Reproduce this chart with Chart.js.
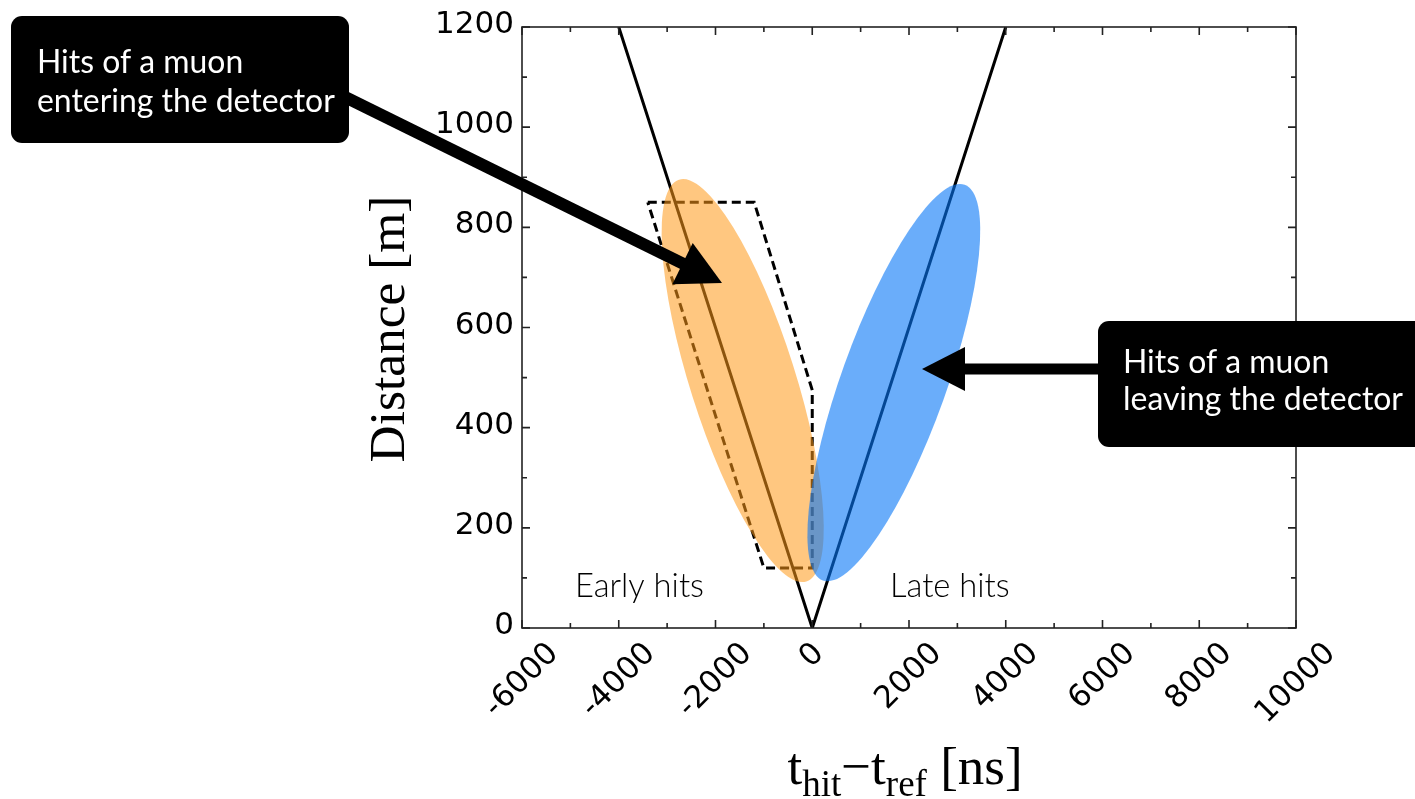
<!DOCTYPE html>
<html>
<head>
<meta charset="utf-8">
<script src="https://cdn.jsdelivr.net/npm/chart.js@4.4.1/dist/chart.umd.min.js"></script>
<style>
  html, body { margin: 0; padding: 0; background: #fff; }
  canvas { display: block; }
</style>
</head>
<body>
<canvas id="chart" width="1415" height="799"></canvas>
<script>
// tick values
const xTicks = [-6000, -4000, -2000, 0, 2000, 4000, 6000, 8000, 10000];
const yTicks = [0, 200, 400, 600, 800, 1000, 1200];

// light cone (time, distance)
const coneT = [-4000, 0, 4000];
const coneD = [1200, 0, 1200];

// dashed selection window
const windowT = [-3400, -1200, 0, 0, -1000, -3400];
const windowD = [850, 850, 475, 120, 120, 850];

// hit clouds: centre and upper tip of the long axis
const earlyCenter = [-1438, 494];
const earlyTip = [-2754, 895];
const lateCenter = [1686, 490];
const lateTip = [3151, 885];

const toPoints = (ts, ds) => ts.map((t, i) => ({ x: t, y: ds[i] }));

// font size that makes text fill a given width
function fitFont(ctx, text, width, family, weight) {
    ctx.font = weight + ' 40px ' + family;
    return 40 * width / ctx.measureText(text).width;
}

/* ellipses drawn over the lines */
const hitClouds = {
    id: 'hitClouds',
    afterDatasetsDraw(chart) {
        const { ctx, scales: { x, y } } = chart;
        const clouds = [
            { c: earlyCenter, tip: earlyTip, color: 'rgba(255,153,24,0.55)' },
            { c: lateCenter, tip: lateTip, color: 'rgba(7,118,247,0.6)' }
        ];
        clouds.forEach(cl => {
            const cx = x.getPixelForValue(cl.c[0]), cy = y.getPixelForValue(cl.c[1]);
            const tx = x.getPixelForValue(cl.tip[0]), ty = y.getPixelForValue(cl.tip[1]);
            const a = Math.hypot(tx - cx, ty - cy);
            ctx.save();
            ctx.fillStyle = cl.color;
            ctx.beginPath();
            ctx.ellipse(cx, cy, a, a * 0.25, Math.atan2(ty - cy, tx - cx), 0, Math.PI * 2);
            ctx.fill();
            ctx.restore();
        });
    }
};

/* box, inward ticks, tick labels, axis titles */
const frame = {
    id: 'frame',
    afterDraw(chart) {
        const { ctx, chartArea: a, scales: { x, y } } = chart;
        ctx.save();
        ctx.strokeStyle = '#222';
        ctx.lineWidth = 1.6;
        ctx.strokeRect(a.left, a.top, a.right - a.left, a.bottom - a.top);

        ctx.beginPath();
        xTicks.forEach((v, i) => {
            const px = x.getPixelForValue(v);
            ctx.moveTo(px, a.bottom); ctx.lineTo(px, a.bottom - 8);
            ctx.moveTo(px, a.top); ctx.lineTo(px, a.top + 8);
            if (i < xTicks.length - 1) {
                const mx = x.getPixelForValue((v + xTicks[i + 1]) / 2);
                ctx.moveTo(mx, a.bottom); ctx.lineTo(mx, a.bottom - 5);
                ctx.moveTo(mx, a.top); ctx.lineTo(mx, a.top + 5);
            }
        });
        yTicks.forEach((v, i) => {
            const py = y.getPixelForValue(v);
            ctx.moveTo(a.left, py); ctx.lineTo(a.left + 8, py);
            ctx.moveTo(a.right, py); ctx.lineTo(a.right - 8, py);
            if (i < yTicks.length - 1) {
                const my = y.getPixelForValue((v + yTicks[i + 1]) / 2);
                ctx.moveTo(a.left, my); ctx.lineTo(a.left + 5, my);
                ctx.moveTo(a.right, my); ctx.lineTo(a.right - 5, my);
            }
        });
        ctx.stroke();

        ctx.fillStyle = '#000';
        ctx.font = '31px "DejaVu Sans"';
        ctx.textAlign = 'right';
        ctx.textBaseline = 'middle';
        yTicks.forEach(v => ctx.fillText(String(v), a.left - 8, y.getPixelForValue(v) - 2));

        ctx.textAlign = 'center';
        xTicks.forEach(v => {
            const s = String(v);
            const w = ctx.measureText(s).width;
            const cx = x.getPixelForValue(v);
            const cy = a.bottom + 13 + (w + 22) / (2 * Math.SQRT2);
            ctx.save();
            ctx.translate(cx, cy);
            ctx.rotate(-Math.PI / 4);
            ctx.fillText(s, 0, 0);
            ctx.restore();
        });

        // y title
        ctx.textBaseline = 'alphabetic';
        const yt = 'Distance [m]';
        const ys = fitFont(ctx, yt, 267, '"Liberation Serif"', 'normal');
        ctx.font = ys + 'px "Liberation Serif"';
        ctx.save();
        ctx.translate(404, 329);
        ctx.rotate(-Math.PI / 2);
        ctx.fillText(yt, 0, 0);
        ctx.restore();

        // x title with subscripts
        const parts = [
            { s: 't', sub: false }, { s: 'hit', sub: true }, { s: '\u2212', sub: false },
            { s: 't', sub: false }, { s: 'ref', sub: true }, { s: ' [ns]', sub: false }
        ];
        const fontFor = p => (p.sub ? '37px' : '53px') + ' "Liberation Serif"';
        let total = 0;
        parts.forEach(p => { ctx.font = fontFor(p); p.w = ctx.measureText(p.s).width; total += p.w; });
        let px = 905 - total / 2;
        ctx.textAlign = 'left';
        parts.forEach(p => {
            ctx.font = fontFor(p);
            ctx.fillText(p.s, px, p.sub ? 796 : 784);
            px += p.w;
        });
        ctx.restore();
    }
};

function roundBox(ctx, x0, y0, w, h, r) {
    ctx.beginPath();
    ctx.roundRect(x0, y0, w, h, r);
    ctx.fill();
}

function arrow(ctx, x0, y0, x1, y1, width, headLen, headHalf) {
    const ang = Math.atan2(y1 - y0, x1 - x0);
    const bx = x1 - headLen * Math.cos(ang), by = y1 - headLen * Math.sin(ang);
    ctx.lineWidth = width;
    ctx.beginPath(); ctx.moveTo(x0, y0); ctx.lineTo(bx + Math.cos(ang), by + Math.sin(ang)); ctx.stroke();
    ctx.beginPath();
    ctx.moveTo(x1, y1);
    ctx.lineTo(bx + headHalf * Math.sin(ang), by - headHalf * Math.cos(ang));
    ctx.lineTo(bx - headHalf * Math.sin(ang), by + headHalf * Math.cos(ang));
    ctx.closePath();
    ctx.fill();
}

/* callouts + region labels */
const callouts = {
    id: 'callouts',
    afterDraw(chart) {
        const { ctx, scales: { x, y } } = chart;
        ctx.save();
        ctx.fillStyle = '#000';
        ctx.strokeStyle = '#000';

        // region labels
        const ls = fitFont(ctx, 'Early hits', 129, 'Lato', '300');
        ctx.font = '300 ' + ls + 'px Lato';
        ctx.textAlign = 'left';
        ctx.textBaseline = 'alphabetic';
        ctx.fillText('Early hits', x.getPixelForValue(-4904), y.getPixelForValue(62));
        ctx.fillText('Late hits', x.getPixelForValue(1607), y.getPixelForValue(62));

        arrow(ctx, 345, 97, 722, 283, 12, 44, 23);
        arrow(ctx, 1100, 369, 922, 369, 11, 43, 22);

        roundBox(ctx, 11, 16, 338, 127, 11);
        roundBox(ctx, 1098, 321, 330, 126, 11);

        const cs = fitFont(ctx, 'entering the detector', 298, 'Lato', 'normal');
        ctx.font = cs + 'px Lato';
        ctx.fillStyle = '#fff';
        ctx.fillText('Hits of a muon', 37, 73);
        ctx.fillText('entering the detector', 37, 112);
        ctx.fillText('Hits of a muon', 1123, 373);
        ctx.fillText('leaving the detector', 1123, 410);
        ctx.restore();
    }
};

new Chart(document.getElementById('chart'), {
    type: 'scatter',
    data: {
        datasets: [
            { data: toPoints(coneT, coneD), showLine: true, borderColor: '#000', borderWidth: 3, pointRadius: 0 },
            { data: toPoints(windowT, windowD), showLine: true, borderColor: '#000', borderWidth: 3, borderDash: [9, 5], pointRadius: 0 }
        ]
    },
    options: {
        responsive: false,
        animation: false,
        events: [],
        layout: { padding: { left: 522, top: 27, right: 119, bottom: 171 } },
        scales: {
            x: { type: 'linear', min: -6000, max: 10000, display: false },
            y: { type: 'linear', min: 0, max: 1200, display: false }
        },
        plugins: { legend: { display: false }, tooltip: { enabled: false } }
    },
    plugins: [hitClouds, frame, callouts]
});
</script>
</body>
</html>
